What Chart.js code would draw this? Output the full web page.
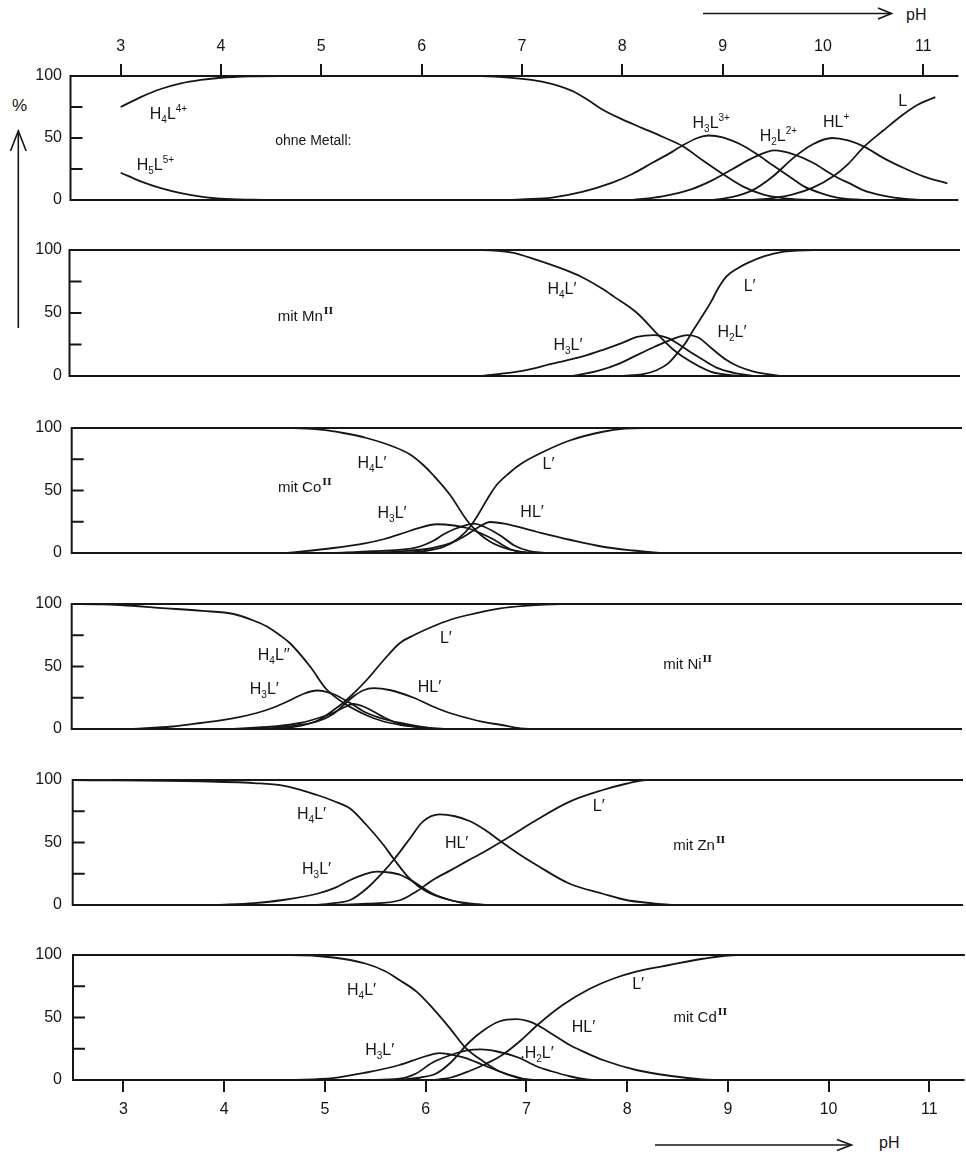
<!DOCTYPE html>
<html>
<head>
<meta charset="utf-8">
<script src="https://cdn.jsdelivr.net/npm/chart.js@4.4.0/dist/chart.umd.min.js"></script>
<style>
  body { margin: 0; background: #fff; width: 966px; height: 1154px; position: relative; overflow: hidden;
         font-family: "Liberation Sans", Arial, sans-serif; color: #161616; }
  canvas { position: absolute; left: 0; }
  .lbl { position: absolute; font-size: 16px; line-height: 16px; white-space: nowrap; color: #161616; }
  svg { position: absolute; left: 0; top: 0; pointer-events: none; }
</style>
</head>
<body>
<span class="lbl" style="left:12px;top:98px;font-size:17px;">%</span>
<span class="lbl" style="left:906px;top:7px;">pH</span>
<span class="lbl" style="left:879px;top:1135px;">pH</span>
<svg width="966" height="1154">
  <g stroke="#161616" stroke-width="1.6" fill="none">
    <line x1="18.3" y1="131" x2="18.3" y2="328"/>
    <polyline points="10.5,151 18.3,131 26.2,151"/>
    <line x1="703" y1="13.5" x2="891" y2="13.5"/>
    <polyline points="878,8 891.5,13.5 878,19"/>
    <line x1="655" y1="1145" x2="851" y2="1145"/>
    <polyline points="837,1139.5 851.5,1145 837,1150.5"/>
  </g>
</svg>
<script>
// ---------------------------- Données (pH, %) ------------------------------------
const phTicks = [3, 4, 5, 6, 7, 8, 9, 10, 11];
const pctTicks = [0, 25, 50, 75, 100];

// ohne Metall
const free_H5L = [[3.0,22],[3.2,15],[3.4,9.5],[3.6,5.5],[3.8,2.8],[4.0,1],[4.3,0.2],[4.6,0]];
const free_H4L = [[3.0,75],[3.2,83],[3.4,89.5],[3.6,94],[3.8,96.8],[4.0,98.6],[4.3,99.7],[4.6,100],[6.6,100],[6.9,98.5],[7.2,95.5],[7.5,88],[7.65,81],[7.8,73],[8.0,65],[8.2,58],[8.4,51],[8.6,43.5],[8.8,32],[9.0,21],[9.2,11],[9.4,4.5],[9.6,1.5],[9.8,0.3],[10.0,0]];
const free_H3L = [[6.9,0],[7.0,0.5],[7.3,2],[7.6,6.5],[7.9,14],[8.1,21],[8.3,30],[8.5,39],[8.6,44],[8.75,50],[8.86,52],[9.0,50.5],[9.2,44],[9.34,37],[9.5,28],[9.7,17],[9.81,11],[10.0,5],[10.14,2],[10.4,0]];
const free_H2L = [[8.1,0],[8.4,3],[8.7,9],[8.9,16],[9.1,25],[9.3,34],[9.52,40],[9.7,37],[9.9,30],[10.1,20],[10.3,12],[10.4,8],[10.6,3.5],[10.8,1],[11.0,0]];
const free_HL = [[8.9,0],[9.1,2.5],[9.3,8],[9.5,19],[9.72,35],[9.9,45],[10.09,50],[10.25,48],[10.41,43],[10.6,34],[10.8,26],[11.0,19],[11.24,13.4]];
const free_L = [[9.3,0],[9.5,1.5],[9.7,4.5],[9.9,10],[10.1,19],[10.25,29],[10.41,43],[10.6,56],[10.8,69],[10.95,77],[11.12,83]];

// mit Mn
const mn_H4L = [[2.5,100],[6.6,100],[6.9,98],[7.15,92],[7.4,85],[7.58,79],[7.8,69],[7.91,63],[8.14,50],[8.37,31],[8.5,21],[8.6,15],[8.87,3.5],[9.1,0.5],[9.3,0]];
const mn_H3L = [[6.6,0],[7.0,4],[7.31,10],[7.6,15.5],[7.81,21],[8.0,26.5],[8.14,31],[8.31,32.5],[8.45,30],[8.54,26],[8.67,19],[8.8,12.7],[8.95,6],[9.13,2],[9.3,0]];
const mn_H2L = [[7.5,0],[7.75,4],[7.97,10],[8.15,17],[8.31,23],[8.5,29.5],[8.64,32.5],[8.75,30.5],[8.88,22],[9.03,12.7],[9.15,7.5],[9.3,3.5],[9.56,0]];
const mn_L = [[8.0,0],[8.2,1.5],[8.34,4.8],[8.45,10],[8.54,18],[8.62,26],[8.7,36.5],[8.8,49],[8.87,58],[8.95,70],[9.03,79],[9.13,85],[9.23,89.4],[9.4,95],[9.6,98.7],[9.9,100],[11.35,100]];

// mit Co
const co_H4L = [[2.5,100],[4.7,100],[5.0,98.5],[5.2,96],[5.43,92],[5.7,85],[5.86,79],[6.0,70],[6.09,62.6],[6.26,46.6],[6.43,26],[6.53,17],[6.66,9],[6.86,2.6],[7.06,0]];
const co_H3L = [[4.64,0],[5.1,4],[5.4,7.5],[5.6,11],[5.8,16],[5.93,19.5],[6.13,23],[6.3,22],[6.43,20],[6.56,16],[6.69,11],[6.86,3],[7.0,0.5],[7.1,0]];
const co_H2L = [[5.1,0],[5.5,1.5],[5.93,4.5],[6.1,10],[6.19,14.6],[6.3,19],[6.43,22.5],[6.5,23.5],[6.6,21],[6.76,14],[6.9,6],[7.05,1.5],[7.2,0]];
const co_HL = [[5.43,0],[5.8,1.5],[6.09,4],[6.3,9],[6.43,14.6],[6.55,21],[6.66,24.8],[6.8,23.5],[7.12,17],[7.45,10.6],[7.78,5],[8.08,2],[8.35,0]];
const co_L = [[5.76,0],[6.0,1.5],[6.2,5],[6.35,12],[6.46,21],[6.55,32],[6.63,43],[6.72,54],[6.85,64],[6.96,71],[7.19,81],[7.45,90],[7.78,97],[8.0,99.5],[8.2,100],[11.35,100]];

// mit Ni
const ni_H4L = [[2.5,100],[2.8,99.8],[3.44,96.5],[3.8,94.5],[4.11,92],[4.3,87],[4.44,82],[4.57,75],[4.67,68.6],[4.87,50],[5.03,32],[5.2,21],[5.43,11],[5.6,6],[5.76,3.4],[6.1,0]];
const ni_H3L = [[3.11,0],[3.5,2],[3.78,4.8],[4.1,8.5],[4.34,12.8],[4.5,17],[4.67,23],[4.8,28],[4.94,30.8],[5.1,28],[5.27,20.7],[5.43,13],[5.6,8],[5.76,5],[6.0,1.5],[6.2,0]];
const ni_H2L = [[4.1,0],[4.5,2],[4.77,4.8],[5.0,10],[5.1,13],[5.2,17],[5.3,20],[5.4,18],[5.5,14],[5.6,9.5],[5.76,4],[6.0,1],[6.1,0]];
const ni_HL = [[4.4,0],[4.7,2.5],[4.94,6],[5.1,12],[5.2,19],[5.3,26],[5.4,31],[5.5,32.7],[5.67,31],[5.9,25],[6.09,18],[6.25,13],[6.43,8.8],[6.6,5.5],[6.76,3.4],[6.96,0.5],[7.1,0]];
const ni_L = [[4.57,0],[4.8,3],[4.95,7],[5.1,15],[5.2,21],[5.27,26],[5.43,39],[5.6,55],[5.76,68.6],[5.9,75],[6.09,82],[6.25,87],[6.43,91],[6.76,96.5],[7.0,98.5],[7.36,100],[11.35,100]];

// mit Zn
const zn_H4L = [[2.5,100],[3.77,99],[4.3,97.5],[4.59,95.5],[4.93,88],[5.1,83],[5.26,77],[5.42,64],[5.59,48],[5.69,37],[5.85,21],[6.02,10.6],[6.25,4],[6.42,1.5],[6.6,0]];
const zn_H3L = [[3.93,0],[4.3,1.5],[4.59,4],[4.93,9],[5.1,13.5],[5.26,20],[5.4,24.5],[5.52,26.7],[5.65,26],[5.76,24],[5.92,17],[6.08,9],[6.25,4],[6.42,1],[6.6,0]];
const zn_HL = [[4.93,0],[5.1,1.5],[5.26,4],[5.42,13],[5.59,26.7],[5.69,36],[5.85,53],[5.98,66.7],[6.15,72.5],[6.3,71],[6.45,67],[6.6,60],[6.76,50.6],[6.95,40],[7.11,32],[7.44,17],[7.77,9],[8.0,4],[8.27,1.3],[8.45,0]];
const zn_L = [[5.1,0],[5.42,1],[5.76,4],[5.92,11],[6.08,20],[6.25,27.5],[6.41,34.7],[6.6,43],[6.76,50.6],[6.95,60],[7.11,68],[7.44,82.7],[7.77,92],[8.0,97],[8.2,100],[11.35,100]];

// mit Cd
const cd_H4L = [[2.5,100],[4.65,100],[5.08,98],[5.41,93],[5.6,87],[5.74,80],[5.91,70.7],[6.07,57.5],[6.24,41.5],[6.4,25.5],[6.57,15],[6.73,7],[6.9,2],[7.0,0.5],[7.1,0]];
const cd_H3L = [[4.65,0],[5.08,1.5],[5.41,6],[5.74,12],[6.0,19],[6.14,21.5],[6.3,19.5],[6.4,17.5],[6.57,12],[6.73,7],[6.9,2.5],[7.0,0.5],[7.1,0]];
const cd_H2L = [[5.41,0],[5.74,1],[5.9,5],[6.07,14],[6.25,20],[6.4,23.5],[6.55,24.5],[6.7,23],[6.92,18],[7.1,11],[7.25,7],[7.43,3],[7.6,0.5],[7.7,0]];
const cd_HL = [[5.74,0],[5.95,2],[6.1,5],[6.25,14],[6.43,30],[6.58,40],[6.73,46.8],[6.9,48.7],[7.0,47.5],[7.11,44],[7.25,37],[7.43,28],[7.6,21.5],[7.76,16],[8.09,8],[8.42,3.4],[8.75,0.5],[8.9,0]];
const cd_L = [[6.07,0],[6.25,2],[6.43,7],[6.6,13],[6.76,20],[6.95,32],[7.11,44],[7.36,60],[7.63,73],[7.86,81],[8.09,86.7],[8.42,92],[8.75,97],[9.1,100],[11.35,100]];

// ---------------------------- Mise en page ------------------------------------
const INK = '#161616';
const FONT = '"Liberation Sans", Arial, sans-serif';
const PH_MIN = 2.5, PH_MAX = 11.35;
const PAD = 60;

// box = [gauche, haut, droite, bas] de la zone de tracé
const panels = [
    { box: [70.5, 76, 958.4, 200], axis: 'top',
      series: [free_H5L, free_H4L, free_H3L, free_H2L, free_HL, free_L],
      labels: [['H_4L^{4+}', 3.29, 65.3, 16], ['H_5L^{5+}', 3.16, 24, 16], ['ohne Metall:', 4.54, 44, 14],
               ['H_3L^{3+}', 8.70, 58, 16], ['H_2L^{2+}', 9.37, 47.6, 16], ['HL^+', 10.0, 59, 16], ['L', 10.75, 76, 16]] },
    { box: [69.5, 250, 960, 376], axis: null,
      series: [mn_H4L, mn_H3L, mn_H2L, mn_L],
      labels: [['H_4L′', 7.25, 65, 16], ['L′', 9.20, 67.5, 16], ['H_3L′', 7.31, 20.6, 16],
               ['H_2L′', 8.94, 31, 16], ['mit Mn^{II}', 4.57, 44, 15]] },
    { box: [71.7, 428, 962, 553], axis: null,
      series: [co_H4L, co_H3L, co_H2L, co_HL, co_L],
      labels: [['H_4L′', 5.34, 68, 16], ['mit Co^{II}', 4.55, 49, 15], ['H_3L′', 5.54, 28, 16],
               ['L′', 7.18, 67.4, 16], ['HL′', 6.96, 29, 16]] },
    { box: [71.7, 604, 962, 729], axis: null,
      series: [ni_H4L, ni_H3L, ni_H2L, ni_HL, ni_L],
      labels: [['H_4L′′', 4.35, 55, 16], ['H_3L′', 4.27, 28, 16], ['L′', 6.16, 69, 16],
               ['HL′', 5.94, 30, 16], ['mit Ni^{II}', 8.38, 48, 15]] },
    { box: [72.7, 780, 963, 905], axis: null,
      series: [zn_H4L, zn_H3L, zn_HL, zn_L],
      labels: [['H_4L′', 4.73, 69, 16], ['H_3L′', 4.78, 25, 16], ['HL′', 6.20, 45.6, 16],
               ['L′', 7.67, 75, 16], ['mit Zn^{II}', 8.47, 44, 15]] },
    { box: [73, 955, 964.6, 1080], axis: 'bottom',
      series: [cd_H4L, cd_H3L, cd_H2L, cd_HL, cd_L],
      labels: [['H_4L′', 5.22, 68, 16], ['H_3L′', 5.40, 20, 16], ['L′', 8.05, 73, 16],
               ['HL′', 7.45, 38.5, 16], [',H_2L′', 6.94, 18, 16], ['mit Cd^{II}', 8.46, 46.5, 15]] }
];

// ---------------------------- Plugins ------------------------------------
const framePlugin = {
    id: 'frame',
    beforeDatasetsDraw(chart) {
        const { ctx, chartArea: a, scales: { y } } = chart;
        ctx.save();
        ctx.strokeStyle = INK;
        ctx.lineWidth = 2;
        ctx.beginPath();
        ctx.moveTo(a.right, a.top);
        ctx.lineTo(a.left, a.top);
        ctx.lineTo(a.left, a.bottom);
        ctx.lineTo(a.right, a.bottom);
        [25, 50, 75].forEach(v => {
            const py = y.getPixelForValue(v);
            ctx.moveTo(a.left, py);
            ctx.lineTo(a.left + 12, py);
        });
        ctx.stroke();
        ctx.restore();
    }
};

// texte avec indices (_x) et exposants (^x ou ^{xy}); "II" en chiffre romain
function drawRich(ctx, text, x, y, size) {
    let i = 0, cx = x;
    while (i < text.length) {
        let mode = 'n', s;
        const ch = text[i];
        if (ch === '_' || ch === '^') {
            mode = ch === '_' ? 'sub' : 'sup';
            i++;
            if (text[i] === '{') {
                const j = text.indexOf('}', i);
                s = text.slice(i + 1, j);
                i = j + 1;
            } else {
                s = text[i];
                i++;
            }
        } else {
            s = ch;
            i++;
        }
        let dy = 0;
        if (mode === 'n') {
            ctx.font = size + 'px ' + FONT;
        } else if (s === 'II') {
            ctx.font = 'bold 10px "DejaVu Serif", serif';
            dy = -7;
            cx += 1;
        } else {
            ctx.font = Math.round(size * 0.62) + 'px ' + FONT;
            dy = mode === 'sub' ? 4 : -7;
        }
        ctx.fillText(s, cx, y + dy);
        cx += ctx.measureText(s).width;
    }
}

const tagPlugin = {
    id: 'tags',
    afterDatasetsDraw(chart, args, opts) {
        const { ctx, scales: { x, y } } = chart;
        ctx.save();
        ctx.fillStyle = INK;
        ctx.textBaseline = 'alphabetic';
        (opts.items || []).forEach(([text, ph, pct, size]) => {
            drawRich(ctx, text, x.getPixelForValue(ph), y.getPixelForValue(pct), size);
        });
        ctx.restore();
    }
};

function xScale(pos) {
    const scale = {
        type: 'linear',
        min: PH_MIN,
        max: PH_MAX,
        display: !!pos,
        position: pos || 'bottom',
        afterBuildTicks: s => { s.ticks = phTicks.map(v => ({ value: v })); },
        grid: { display: true, drawOnChartArea: false, drawTicks: true, tickLength: 12, color: INK, lineWidth: 2 },
        border: { display: false },
        ticks: { padding: 8, color: INK, font: { size: 16, family: FONT }, maxRotation: 0, autoSkip: false }
    };
    if (pos) {
        scale.afterFit = s => { s.height = PAD; };
    }
    return scale;
}

function yScale(left) {
    return {
        type: 'linear',
        min: 0,
        max: 100,
        afterBuildTicks: s => { s.ticks = pctTicks.map(v => ({ value: v })); },
        afterFit: s => { s.width = left; },
        grid: { display: false, drawTicks: false },
        border: { display: false },
        ticks: { padding: left - 62, color: INK, font: { size: 16, family: FONT },
                 callback: v => (v % 50 === 0 ? String(v) : '') }
    };
}

// ---------------------------- Création des graphiques ------------------------------------
panels.forEach(p => {
    const [left, top, right, bottom] = p.box;
    const cv = document.createElement('canvas');
    cv.width = 966;
    cv.height = bottom - top + 2 * PAD;
    cv.style.top = (top - PAD) + 'px';
    document.body.appendChild(cv);
    new Chart(cv, {
        type: 'line',
        data: {
            datasets: p.series.map(s => ({
                data: s.map(([x, y]) => ({ x, y })),
                borderColor: INK,
                borderWidth: 1.8,
                pointRadius: 0,
                fill: false,
                cubicInterpolationMode: 'monotone',
                clip: 4
            }))
        },
        options: {
            responsive: false,
            animation: false,
            events: [],
            layout: { padding: { left: 0, right: 966 - right,
                                 top: p.axis === 'top' ? 0 : PAD,
                                 bottom: p.axis === 'bottom' ? 0 : PAD } },
            scales: { x: xScale(p.axis), y: yScale(left) },
            plugins: {
                legend: { display: false },
                tooltip: { enabled: false },
                tags: { items: p.labels }
            }
        },
        plugins: [framePlugin, tagPlugin]
    });
});
</script>
</body>
</html>
